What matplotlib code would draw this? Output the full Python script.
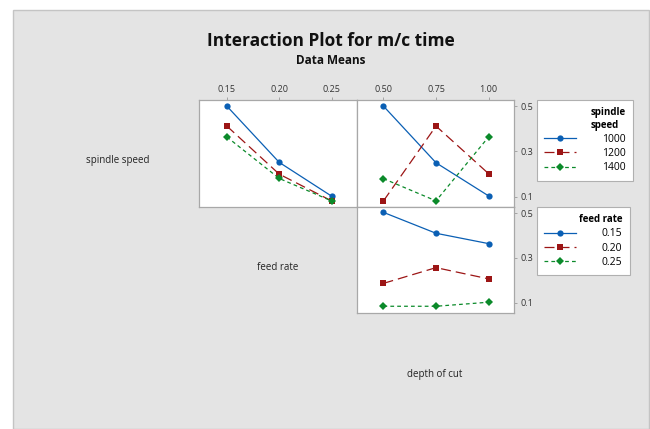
import matplotlib
matplotlib.use('Agg')
import matplotlib.pyplot as plt
from matplotlib.patches import Rectangle

plt.rcParams['font.family'] = ['Open Sans', 'DejaVu Sans']

# factor levels
spindle_levels = ['1000', '1200', '1400']
feed_levels = [0.15, 0.20, 0.25]
depth_levels = [0.50, 0.75, 1.00]
feed_labels = ['0.15', '0.20', '0.25']
depth_labels = ['0.50', '0.75', '1.00']

# mean m/c time, spindle speed x feed rate (one list per spindle speed)
sf_1000 = [0.500, 0.252, 0.103]
sf_1200 = [0.412, 0.200, 0.082]
sf_1400 = [0.364, 0.181, 0.082]

# spindle speed x depth of cut
sd_1000 = [0.500, 0.250, 0.104]
sd_1200 = [0.082, 0.412, 0.202]
sd_1400 = [0.180, 0.082, 0.364]

# feed rate x depth of cut (one list per feed rate)
fd_015 = [0.503, 0.410, 0.364]
fd_020 = [0.187, 0.257, 0.207]
fd_025 = [0.085, 0.085, 0.103]

yticks = [0.1, 0.3, 0.5]

colors = ['#0a5fb4', '#9c1515', '#0b8a2a']
markers = ['o', 's', 'D']
styles = ['-', (0, (8, 4)), (0, (3, 2.5))]
msizes = [4.5, 5, 4.5]

fig = plt.figure(figsize=(6.5, 4.29), dpi=100)
fig.patch.set_facecolor('white')
fig.patches.append(Rectangle((13 / 650, 0), 636 / 650, 419 / 429, transform=fig.transFigure,
                             facecolor='#e4e4e4', edgecolor='#c4c4c4', lw=1, zorder=-5))

W, H = 650, 429


def px_axes(x0, y0, x1, y1):
    ax = fig.add_axes([x0 / W, 1 - y1 / H, (x1 - x0) / W, (y1 - y0) / H])
    ax.set_zorder(2)
    return ax


ax_sf = px_axes(199, 100, 357, 207)
ax_sd = px_axes(357, 100, 514, 207)
ax_fd = px_axes(357, 207, 514, 313)


def style_axes(ax, xs, xlabels, top=False, right=False):
    ax.set_facecolor('white')
    for s in ax.spines.values():
        s.set_color('#a8a8a8')
        s.set_linewidth(0.9)
    ax.set_ylim(0.055, 0.527)
    ax.tick_params(labelsize=6.5, colors='#333333', length=2.5, width=0.6, pad=2)
    ax.tick_params(color='#999999')
    if top:
        ax.set_xticks(xs)
        ax.set_xticklabels(xlabels)
        ax.xaxis.tick_top()
    else:
        ax.set_xticks([])
    if right:
        ax.set_yticks(yticks)
        ax.set_yticklabels(['0.1', '0.3', '0.5'])
        ax.yaxis.tick_right()
    else:
        ax.set_yticks([])


def draw(ax, xs, series):
    handles = []
    for vals, c, m, ls, ms in zip(series, colors, markers, styles, msizes):
        h, = ax.plot(xs, vals, color=c, marker=m, linestyle=ls, lw=0.9,
                     markersize=ms, markeredgewidth=0, clip_on=False)
        handles.append(h)
    return handles


h_s = draw(ax_sf, feed_levels, [sf_1000, sf_1200, sf_1400])
ax_sf.set_xlim(0.1234, 0.2743)
style_axes(ax_sf, feed_levels, feed_labels, top=True)

draw(ax_sd, depth_levels, [sd_1000, sd_1200, sd_1400])
ax_sd.set_xlim(0.374, 1.121)
style_axes(ax_sd, depth_levels, depth_labels, top=True, right=True)

h_f = draw(ax_fd, depth_levels, [fd_015, fd_020, fd_025])
ax_fd.set_xlim(0.374, 1.121)
style_axes(ax_fd, depth_levels, depth_labels, right=True)

# legends
leg_kw = dict(loc='upper left', fontsize=7.5, title_fontsize=7,
              frameon=True, fancybox=False, edgecolor='#b0b0b0', facecolor='white',
              framealpha=1, handlelength=3.0, borderaxespad=0, borderpad=0.7,
              labelspacing=0.3, handletextpad=2.5, alignment='right')
leg1 = fig.legend(h_s, spindle_levels, title='spindle\nspeed',
                  bbox_to_anchor=(537 / W, 1 - 100 / H), **leg_kw)
leg1.get_title().set_fontweight('bold')
leg1.get_frame().set_linewidth(0.8)
leg2 = fig.legend(h_f, feed_labels, title='feed rate',
                  bbox_to_anchor=(537 / W, 1 - 207 / H), **leg_kw)
leg2.get_title().set_fontweight('bold')
leg2.get_frame().set_linewidth(0.8)

# diagonal factor names
fig.text(118 / W, 1 - 160 / H, 'spindle speed', fontsize=7, ha='center', va='center', color='#222222')
fig.text(278 / W, 1 - 267 / H, 'feed rate', fontsize=7, ha='center', va='center', color='#222222')
fig.text(435 / W, 1 - 375 / H, 'depth of cut', fontsize=7, ha='center', va='center', color='#222222')

fig.text(331 / W, 1 - 41 / H, 'Interaction Plot for m/c time', fontsize=12.5, fontweight='bold',
         ha='center', va='center', color='#111111')
fig.text(331 / W, 1 - 60 / H, 'Data Means', fontsize=8.5, fontweight='bold',
         ha='center', va='center', color='#111111')

fig.savefig('out.png', dpi=100)
